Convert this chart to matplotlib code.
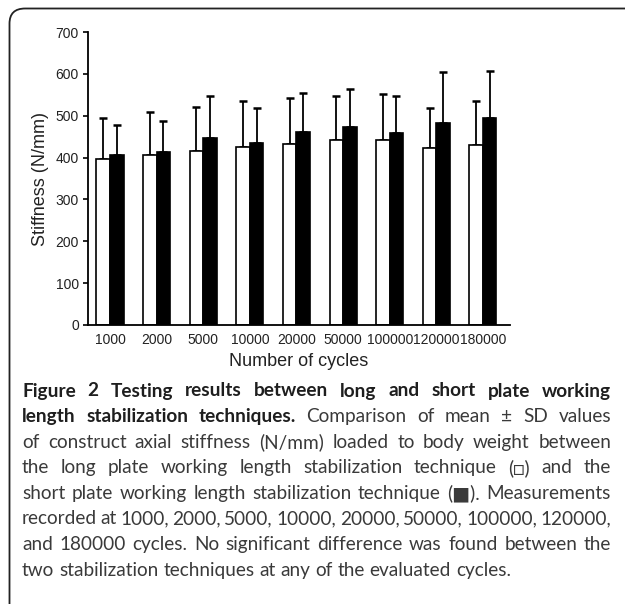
import matplotlib
matplotlib.use("Agg")
import matplotlib.pyplot as plt
import numpy as np
from matplotlib.patches import FancyBboxPatch

# ---------------- data ----------------
cycles = ["1000", "2000", "5000", "10000", "20000", "50000", "100000", "120000", "180000"]
long_mean = [396, 406, 416, 426, 432, 442, 442, 422, 431]
long_sd = [99, 102, 106, 110, 110, 106, 109, 96, 104]
short_mean = [406, 414, 446, 435, 460, 472, 459, 482, 494]
short_sd = [72, 74, 102, 84, 95, 92, 89, 123, 113]
yticks = [0, 100, 200, 300, 400, 500, 600, 700]

caption_lines = [
    [("Figure 2 Testing results between long and short plate working", "bold")],
    [("length stabilization techniques.", "bold"), ("Comparison of mean \u00b1 SD values", "normal")],
    [("of construct axial stiffness (N/mm) loaded to body weight between", "normal")],
    [("the long plate working length stabilization technique (\u25a1) and the", "normal")],
    [("short plate working length stabilization technique (\u25a0). Measurements", "normal")],
    [("recorded at 1000, 2000, 5000, 10000, 20000, 50000, 100000, 120000,", "normal")],
    [("and 180000 cycles. No significant difference was found between the", "normal")],
    [("two stabilization techniques at any of the evaluated cycles.", "normal")],
]

W, H = 625, 604
fig = plt.figure(figsize=(W / 100, H / 100), dpi=100)

# rounded frame (cropped at right and bottom like the reference)
frame = FancyBboxPatch((9.5 / W, -0.05), 1.2, (H - 8.5) / H + 0.05,
                       boxstyle="round,pad=0,rounding_size=0.025",
                       transform=fig.transFigure, fill=False,
                       edgecolor="#222222", linewidth=1.3)
fig.patches.append(frame)

# ---------------- chart ----------------
ax_left, ax_right = 88, 510
ax_top, ax_bottom = 32, 325
ax = fig.add_axes([ax_left / W, 1 - ax_bottom / H, (ax_right - ax_left) / W, (ax_bottom - ax_top) / H])

x = np.arange(len(cycles))
bw = 0.29
ax.bar(x - bw / 2, long_mean, width=bw, color="white", edgecolor="black", linewidth=1.2, zorder=2)
ax.bar(x + bw / 2, short_mean, width=bw, color="black", edgecolor="black", linewidth=1.2, zorder=2)
ax.errorbar(x - bw / 2, long_mean, yerr=[np.zeros(len(x)), long_sd], fmt="none",
            ecolor="black", elinewidth=1.3, capsize=3.2, capthick=1.8, zorder=1)
ax.errorbar(x + bw / 2, short_mean, yerr=[np.zeros(len(x)), short_sd], fmt="none",
            ecolor="black", elinewidth=1.3, capsize=3.2, capthick=1.8, zorder=1)

ax.set_ylim(0, 700)
ax.set_xlim(-0.472, 8.58)
ax.set_yticks(yticks)
ax.set_xticks(x)
ax.set_xticklabels(cycles)
for s in ["top", "right"]:
    ax.spines[s].set_visible(False)
for s in ["left", "bottom"]:
    ax.spines[s].set_linewidth(1.3)
ax.tick_params(axis="y", length=3.5, width=1.2, pad=3, labelsize=10, labelcolor="#222222")
ax.tick_params(axis="x", length=0, pad=6, labelsize=10, labelcolor="#222222")
for lab in ax.get_xticklabels() + ax.get_yticklabels():
    lab.set_family("Liberation Sans")
ax.set_ylabel("Stiffness (N/mm)", family="Liberation Sans", fontsize=13, color="#222222", labelpad=5)
ax.set_xlabel("Number of cycles", family="Liberation Sans", fontsize=13, color="#222222", labelpad=4)

# ---------------- caption ----------------
renderer = fig.canvas.get_renderer()
fam = ["Lato", "DejaVu Sans"]
colors = {"bold": "#1e1e1e", "normal": "#3a3a3a"}
x0, x1 = 22, 611
last_width_target = 505
y_first = 391
dy = 25.6


def measure(word, weight, fs):
    t = fig.text(0, 0, word, fontsize=fs, family=fam, fontweight=weight)
    w = t.get_window_extent(renderer).width
    t.remove()
    return w


def line_words(segs):
    words = []
    for text, weight in segs:
        for wd in text.split(" "):
            words.append((wd, weight))
    return words


def natural_width(segs, fs):
    words = line_words(segs)
    sp = measure("a b", "normal", fs) - measure("ab", "normal", fs)
    return sum(measure(wd, wt, fs) for wd, wt in words) + sp * 0.8 * (len(words) - 1)

base = 10.0
fs = base * last_width_target / natural_width(caption_lines[-1], base)
for segs in caption_lines[:-1]:
    nw = natural_width(segs, fs)
    if nw > (x1 - x0):
        fs = fs * (x1 - x0) / nw

for i, segs in enumerate(caption_lines):
    words = line_words(segs)
    widths = [measure(wd, wt, fs) for wd, wt in words]
    y = y_first + i * dy
    justify = i < len(caption_lines) - 1
    if justify and len(words) > 1:
        gap = (x1 - x0 - sum(widths)) / (len(words) - 1)
    else:
        gap = measure("a b", "normal", fs) - measure("ab", "normal", fs)
    cx = x0
    for (wd, wt), w in zip(words, widths):
        fig.text(cx / W, 1 - y / H, wd, fontsize=fs, family=fam, fontweight=wt,
                 color=colors[wt], va="center", ha="left")
        cx += w + gap

fig.savefig("out.png", dpi=100)
